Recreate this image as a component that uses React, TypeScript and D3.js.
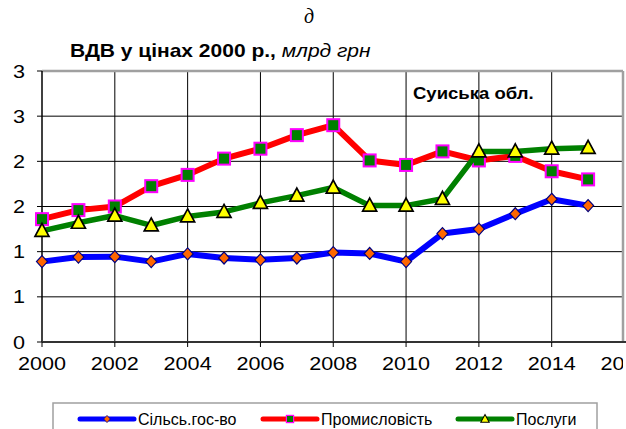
import React from 'react';
import * as d3 from 'd3';

// chart data
const years = [2000, 2001, 2002, 2003, 2004, 2005, 2006, 2007, 2008, 2009, 2010, 2011, 2012, 2013, 2014, 2015];
const agriculture = [0.89, 0.94, 0.945, 0.89, 0.975, 0.93, 0.91, 0.93, 0.99, 0.98, 0.89, 1.2, 1.25, 1.42, 1.58, 1.51];
const industry = [1.36, 1.46, 1.5, 1.725, 1.85, 2.03, 2.14, 2.29, 2.4, 2.01, 1.96, 2.11, 2.01, 2.06, 1.89, 1.8];
const services = [1.23, 1.32, 1.4, 1.29, 1.39, 1.44, 1.54, 1.62, 1.71, 1.51, 1.51, 1.585, 2.11, 2.11, 2.14, 2.15];
const seriesNames = ['Сільсь.гос-во', 'Промисловість', 'Послуги'];
const xTicks = [2000, 2002, 2004, 2006, 2008, 2010, 2012, 2014, 2016];
const yTicks = [0, 0.5, 1, 1.5, 2, 2.5, 3];
const yTickLabels = ['0', '1', '1', '2', '2', '3', '3'];

const W = 626;
const H = 429;
const margin = { left: 42, right: 2, top: 71, bottom: 87 };

const x = d3.scaleLinear().domain([2000, 2016]).range([margin.left, 624.5]);
const y = d3.scaleLinear().domain([0, 3]).range([H - margin.bottom, margin.top]);

const line = (vals: number[]) =>
  d3.line<number>().x((_, i) => x(years[i])).y(d => y(d))(vals) || '';

const Diamond = ({ cx, cy }: { cx: number; cy: number }) => (
  <path d={`M${cx},${cy - 6}L${cx + 5.5},${cy}L${cx},${cy + 6}L${cx - 5.5},${cy}Z`}
    fill="#ff6600" stroke="#000080" strokeWidth={1.2} />
);
const Square = ({ cx, cy }: { cx: number; cy: number }) => (
  <rect x={cx - 6} y={cy - 6} width={12} height={12} fill="#008000" stroke="#ff00ff" strokeWidth={2} />
);
const Triangle = ({ cx, cy }: { cx: number; cy: number }) => (
  <path d={`M${cx},${cy - 7.5}L${cx + 7},${cy + 5.5}L${cx - 7},${cy + 5.5}Z`}
    fill="#ffff00" stroke="#000" strokeWidth={1.7} strokeLinejoin="miter" />
);

const series = [
  { vals: agriculture, color: '#0000ff', width: 6, Marker: Diamond },
  { vals: industry, color: '#ff0000', width: 6, Marker: Square },
  { vals: services, color: '#008000', width: 5.5, Marker: Triangle },
];

const legendX = [80, 263, 458];

// text drawn a little wider than the font, like the source image
const Wide = ({ x, y, sx = 1.2, children, ...rest }: any) => (
  <text transform={`translate(${x},${y}) scale(${sx},1)`} {...rest}>{children}</text>
);

export default function App() {
  const x0 = margin.left;
  const x1 = 623;
  const y0 = y(0);
  const y1 = y(3);
  const font = 'Arial, "Liberation Sans", sans-serif';
  return (
    <div style={{ position: 'absolute', left: 0, top: 0 }}>
      <svg width={W} height={H} style={{ display: 'block', background: '#fff' }} fontFamily={font}>
        <defs>
          <clipPath id="clipAll">
            <rect x={0} y={0} width={623} height={H} />
          </clipPath>
        </defs>
        <text x={309} y={23} textAnchor="middle" fontFamily='"Liberation Serif", "Times New Roman", serif'
          fontStyle="italic" fontSize={20}>д</text>
        <Wide x={70} y={57} fontSize={17.5}>
          <tspan fontWeight="bold">ВДВ у цінах 2000 р., </tspan>
          <tspan fontStyle="italic">млрд грн</tspan>
        </Wide>

        {/* grid */}
        {yTicks.map(t => (
          <line key={'gy' + t} x1={x0} x2={x1} y1={y(t)} y2={y(t)} stroke="#000" strokeWidth={1} />
        ))}
        {xTicks.slice(1, -1).map(t => (
          <line key={'gx' + t} x1={x(t)} x2={x(t)} y1={y1} y2={y0} stroke="#000" strokeWidth={1} />
        ))}
        <line x1={x0} x2={x1} y1={y1} y2={y1} stroke="#a0a0a0" strokeWidth={2.5} />
        <line x1={x1} x2={x1} y1={y1} y2={y0} stroke="#a0a0a0" strokeWidth={2.5} />

        <Wide x={413} y={99} sx={1.09} fontSize={17} fontWeight="bold">Суиська обл.</Wide>

        {/* axes */}
        <line x1={x0} x2={x0} y1={y1} y2={y0} stroke="#000" strokeWidth={1.5} />
        <line x1={x0} x2={626} y1={y0} y2={y0} stroke="#333" strokeWidth={2} />
        {yTicks.map((t, i) => (
          <g key={'ty' + t}>
            <line x1={x0 - 5} x2={x0} y1={y(t)} y2={y(t)} stroke="#000" />
            <Wide x={25} y={y(t) + 6.5} textAnchor="end" fontSize={18}>{yTickLabels[i]}</Wide>
          </g>
        ))}
        <g clipPath="url(#clipAll)">
          {xTicks.map(t => (
            <g key={'tx' + t}>
              <line x1={x(t)} x2={x(t)} y1={y0} y2={y0 + 5} stroke="#000" />
              <Wide x={x(t)} y={370} textAnchor="middle" fontSize={18}>{t}</Wide>
            </g>
          ))}
        </g>

        {/* series */}
        {series.map((s, si) => (
          <g key={'s' + si}>
            <path d={line(s.vals)} fill="none" stroke={s.color} strokeWidth={s.width} strokeLinejoin="round" />
            {s.vals.map((v, i) => (
              <s.Marker key={i} cx={x(years[i])} cy={y(v)} />
            ))}
          </g>
        ))}

        {/* legend */}
        <rect x={53} y={403} width={544} height={40} fill="#fff" stroke="#a0a0a0" strokeWidth={1.5} />
        {series.map((s, i) => (
          <g key={'lg' + i}>
            <line x1={legendX[i]} x2={legendX[i] + 54} y1={419} y2={419} stroke={s.color}
              strokeWidth={5} strokeLinecap="round" />
            <g transform={`translate(${legendX[i] + 27},419) scale(0.6) translate(${-(legendX[i] + 27)},-419)`}>
              <s.Marker cx={legendX[i] + 27} cy={419} />
            </g>
            <text x={legendX[i] + 58} y={425} fontSize={16}>{seriesNames[i]}</text>
          </g>
        ))}
      </svg>
    </div>
  );
}
